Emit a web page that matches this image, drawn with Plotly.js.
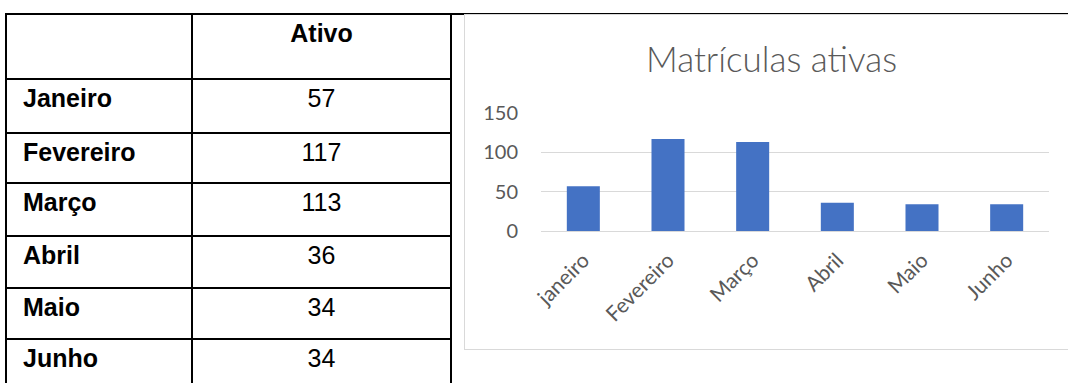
<!DOCTYPE html>
<html>
<head>
<meta charset="utf-8">
<script src="https://cdn.plot.ly/plotly-3.0.1.min.js"></script>
<style>
  html, body { margin:0; padding:0; background:#fff; width:1068px; height:383px; overflow:hidden; }
  #topline { position:absolute; left:5px; top:13px; width:1063px; height:2px; background:#000; }
  #tbl { position:absolute; left:5px; top:13px; border-collapse:collapse; table-layout:fixed;
         font-family:"Liberation Sans", Arial, sans-serif; font-size:25px; color:#000; }
  #tbl td { border:2px solid #000; vertical-align:top; padding:0; line-height:28px; }
  #tbl td.c1 { width:168px; padding-left:16px; font-weight:bold; }
  #tbl td.c2 { width:257px; text-align:center; border-left:2px solid #6f6f6f; }
  #tbl tr.h td { height:59px; padding-top:4px; }
  #tbl tr.r td { padding-top:4px; }
  #chartbox { position:absolute; left:464px; top:14px; width:615px; height:336px;
              border:1px solid #d9d9d9; box-sizing:border-box; }
  #chart { position:absolute; left:0; top:0; width:613px; height:334px; }
</style>
</head>
<body>
<div id="topline"></div>
<table id="tbl"></table>
<div id="chartbox"><div id="chart"></div></div>
<script>
// ---- data ----
var tableHeader = "Ativo";
var tableLabels = ["Janeiro", "Fevereiro", "Março", "Abril", "Maio", "Junho"];
var chartCategories = ["janeiro", "Fevereiro", "Março", "Abril", "Maio", "Junho"];
var ativoValues = [57, 117, 113, 36, 34, 34];
var yTicks = [0, 50, 100, 150];
var chartTitle = "Matrículas ativas";

// ---- table ----
var rowHeights = [48, 44, 47, 46, 45, 45];
var tbl = document.getElementById('tbl');
var html = '<tr class="h"><td class="c1"></td><td class="c2" style="font-weight:bold">' + tableHeader + '</td></tr>';
for (var i = 0; i < tableLabels.length; i++) {
  html += '<tr class="r"><td class="c1" style="height:' + rowHeights[i] + 'px">' + tableLabels[i] +
          '</td><td class="c2">' + ativoValues[i] + '</td></tr>';
}
tbl.innerHTML = html;

// ---- chart ----
var gray = '#595959';
var trace = {
  type: 'bar',
  x: chartCategories,
  y: ativoValues,
  marker: { color: '#4472C4' },
  hoverinfo: 'none'
};
var layout = {
  width: 613, height: 334,
  margin: { l: 76, r: 29, t: 98, b: 118 },
  paper_bgcolor: 'rgba(0,0,0,0)',
  plot_bgcolor: 'rgba(0,0,0,0)',
  showlegend: false,
  bargap: 0.61,
  font: { family: 'Lato, "Open Sans", sans-serif', color: gray },
  title: {
    text: chartTitle,
    font: { family: 'Lato, "Open Sans", sans-serif', size: 35, color: gray, weight: 300 },
    xref: 'container', x: 0.5, xanchor: 'center',
    yref: 'container', y: 1 - 45/334, yanchor: 'middle'
  },
  xaxis: {
    type: 'category',
    tickangle: -45,
    tickfont: { size: 21, color: gray },
    showgrid: false,
    showline: false,
    zeroline: false,
    ticks: '',
    ticklabelstandoff: 12
  },
  yaxis: {
    range: [0, 150],
    tickvals: yTicks,
    ticktext: yTicks.map(String),
    tickfont: { size: 20, color: gray },
    showgrid: true,
    gridcolor: '#d9d9d9',
    gridwidth: 1,
    zeroline: true,
    zerolinecolor: '#d9d9d9',
    zerolinewidth: 1,
    showline: false,
    ticks: '',
    ticklabelstandoff: 22
  }
};
Plotly.newPlot('chart', [trace], layout, { staticPlot: true, displayModeBar: false });
</script>
</body>
</html>
